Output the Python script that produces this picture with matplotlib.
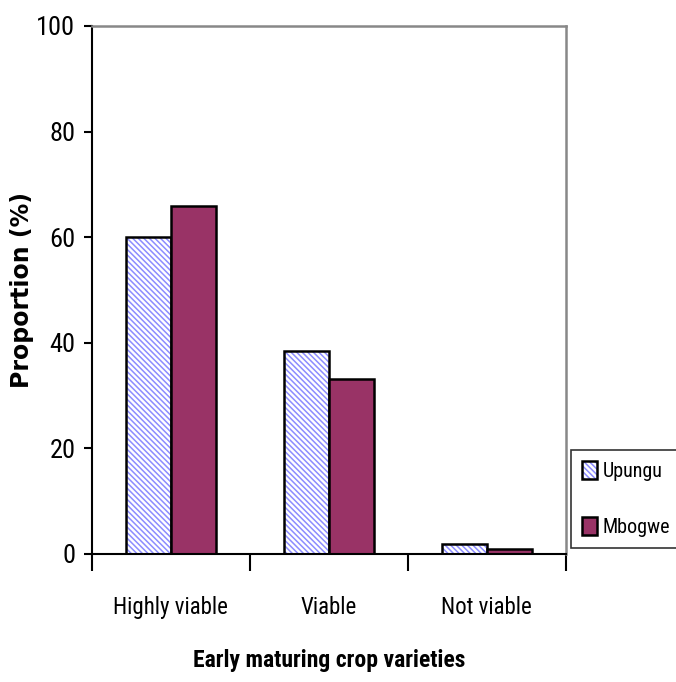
import matplotlib
matplotlib.use("Agg")
import matplotlib.pyplot as plt
from matplotlib import font_manager
from matplotlib.legend_handler import HandlerTuple
import numpy as np

# data
categorias = ["Highly viable", "Viable", "Not viable"]
upungu = [60, 38.5, 1.8]
mbogwe = [66, 33.2, 0.9]
ticks_y = [0, 20, 40, 60, 80, 100]

# pick a narrow font similar to Arial Narrow
disponibles = set(f.name for f in font_manager.fontManager.ttflist)
narrow = 'DejaVu Sans'
for candidata in ['Liberation Sans Narrow', 'Arial Narrow', 'Roboto Condensed', 'Archivo Narrow']:
    if candidata in disponibles:
        narrow = candidata
        break

plt.rcParams['font.family'] = [narrow, 'DejaVu Sans']
plt.rcParams['hatch.linewidth'] = 1.1

fig = plt.figure(figsize=(6.76, 6.82), dpi=100)
ax = fig.add_axes([0.136, 0.1877, 0.701, 0.7742])

x = np.arange(len(categorias))
ancho = 0.285
# hatched fill in light blue, then black outline on top
rayado = ax.bar(x - ancho / 2, upungu, ancho, color='white', edgecolor='#8c8cff',
                linewidth=0, hatch='\\' * 6)
borde = ax.bar(x - ancho / 2, upungu, ancho, fill=False, edgecolor='black', linewidth=1.8)
morado = ax.bar(x + ancho / 2, mbogwe, ancho, color='#993366', edgecolor='black',
                linewidth=1.8)

ax.set_xlim(-0.5, len(categorias) - 0.5)
ax.set_ylim(0, 100)
ax.set_yticks(ticks_y)
ax.tick_params(axis='y', labelsize=19, length=6, width=1.5, direction='out', pad=6)
# x ticks between categories
ax.set_xticks(np.arange(-0.5, len(categorias), 1.0))
ax.set_xticklabels([])
ax.set_xticks(x, minor=True)
ax.set_xticklabels(categorias, minor=True, fontsize=16.5)
ax.tick_params(axis='x', which='major', length=12, width=1.5, direction='out')
ax.tick_params(axis='x', which='minor', length=0, pad=30)

ax.spines['left'].set_linewidth(1.5)
ax.spines['bottom'].set_linewidth(1.5)
for lado in ['top', 'right']:
    ax.spines[lado].set_color('#888888')
    ax.spines[lado].set_linewidth(1.8)

ax.set_ylabel('Proportion (%)', fontsize=17, fontweight='bold', family='DejaVu Sans')
ax.yaxis.set_label_coords(-0.122, 0.5)
ax.set_xlabel('Early maturing crop varieties', fontsize=17, fontweight='bold', labelpad=22)

leg = fig.legend([(rayado[0], borde[0]), morado[0]], ['Upungu', 'Mbogwe'],
                 handler_map={tuple: HandlerTuple(ndivide=1, pad=0)},
                 loc='lower left', bbox_to_anchor=(0.845, 0.196),
                 fontsize=14.5, frameon=True, fancybox=False,
                 handlelength=0.75, handleheight=1.0, handletextpad=0.25,
                 borderpad=0.55, labelspacing=1.8, borderaxespad=0)
leg.get_frame().set_edgecolor('black')
leg.get_frame().set_linewidth(1.2)

plt.savefig('out.png', dpi=100)
